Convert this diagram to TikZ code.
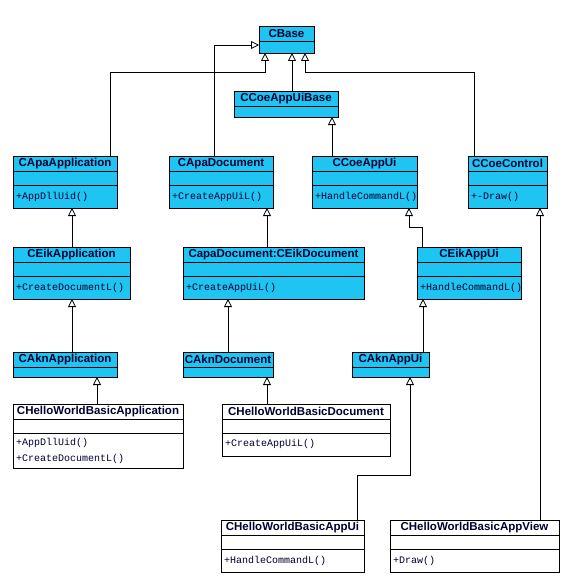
\documentclass[tikz,border=0pt]{standalone}
\usepackage{fontspec}
\usetikzlibrary{arrows.meta}
\newfontfamily\ttlfont{Liberation Sans}
\newfontfamily\opfont{Liberation Mono}
\definecolor{clsblue}{RGB}{30,196,242}
\definecolor{navy}{RGB}{0,0,48}
\tikzset{
  blue box/.style={draw=black, fill=clsblue, line width=0.8pt, inner sep=0pt, outer sep=0pt, rectangle},
  white box/.style={draw=black, fill=white, line width=0.8pt, inner sep=0pt, outer sep=0pt, rectangle},
  ttl/.style={font=\ttlfont\bfseries\fontsize{11.5}{13}\selectfont, text=navy, inner sep=0pt},
  optext/.style={font=\opfont\fontsize{10}{12}\selectfont, text=navy, inner sep=0pt, anchor=west},
  sepline/.style={draw=black, line width=0.8pt},
  inh/.style={draw=black, line width=0.8pt, -{Triangle[open, length=8pt, width=8pt, line width=0.8pt]}}
}
\newcommand\clsbox[7]{%
  \node[#1, anchor=north west, minimum width={(#5-#3)*1pt}, minimum height={(#6-#4)*1pt}] (#2) at (#3,#4) {};
  \node[ttl] (#2-title) at ([yshift=-7.5pt]#2.north) {#7};
  \draw[sepline] ([yshift=-15pt]#2.north west) -- ([yshift=-15pt]#2.north east);
}
\newcommand\secondsep[1]{%
  \draw[sepline] ([yshift=-29pt]#1.north west) -- ([yshift=-29pt]#1.north east);
}
\newcommand\opline[4]{%
  \node[optext] (#1-op#2) at ([xshift=3pt,yshift=-#3pt]#1.north west) {#4};
}
\begin{document}
\begin{tikzpicture}[x=1pt, y=-1pt]
\fill[white] (0,0) rectangle (580,583);
\useasboundingbox (0,0) rectangle (580,583);

% row 0
\clsbox{blue box}{cbase}{259}{26}{314}{53}{CBase}
\clsbox{blue box}{coeuibase}{234}{91}{338}{117}{CCoeAppUiBase}

% row 1
\clsbox{blue box}{apaapp}{13}{156}{117}{208}{CApaApplication}
\secondsep{apaapp}\opline{apaapp}{1}{41}{+AppDllUid()}
\clsbox{blue box}{apadoc}{169}{156}{273}{208}{CApaDocument}
\secondsep{apadoc}\opline{apadoc}{1}{41}{+CreateAppUiL()}
\clsbox{blue box}{coeappui}{312}{156}{417}{208}{CCoeAppUi}
\secondsep{coeappui}\opline{coeappui}{1}{41}{+HandleCommandL()}
\clsbox{blue box}{coectrl}{468}{156}{547}{208}{CCoeControl}
\secondsep{coectrl}\opline{coectrl}{1}{41}{+-Draw()}

% row 2
\clsbox{blue box}{eikapp}{13}{247}{130}{299}{CEikApplication}
\secondsep{eikapp}\opline{eikapp}{1}{41}{+CreateDocumentL()}
\clsbox{blue box}{eikdoc}{183}{247}{364}{299}{CapaDocument:CEikDocument}
\secondsep{eikdoc}\opline{eikdoc}{1}{41}{+CreateAppUiL()}
\clsbox{blue box}{eikappui}{417}{247}{521}{299}{CEikAppUi}
\secondsep{eikappui}\opline{eikappui}{1}{41}{+HandleCommandL()}

% row 3
\clsbox{blue box}{aknapp}{13}{352}{117}{377}{CAknApplication}
\clsbox{blue box}{akndoc}{183}{352}{273}{377}{CAknDocument}
\clsbox{blue box}{aknappui}{352}{352}{429}{377}{CAknAppUi}

% row 4
\clsbox{white box}{hwapp}{13}{404}{183}{468}{CHelloWorldBasicApplication}
\secondsep{hwapp}\opline{hwapp}{1}{39}{+AppDllUid()}\opline{hwapp}{2}{55}{+CreateDocumentL()}
\clsbox{white box}{hwdoc}{222}{404}{390}{456}{CHelloWorldBasicDocument}
\secondsep{hwdoc}\opline{hwdoc}{1}{40}{+CreateAppUiL()}

% row 5
\clsbox{white box}{hwappui}{221}{520}{364}{572}{CHelloWorldBasicAppUi}
\secondsep{hwappui}\opline{hwappui}{1}{41}{+HandleCommandL()}
\clsbox{white box}{hwview}{390}{520}{559}{572}{CHelloWorldBasicAppView}
\secondsep{hwview}\opline{hwview}{1}{41}{+Draw()}

% connectors
\draw[inh] (apaapp.north -| 110,0) -- (110,72) -- (265,72) -- (cbase.south -| 265,0);
\draw[inh] (apadoc.north -| 214,0) -- (214,45) -- (cbase.west |- 0,45);
\draw[inh] (coeuibase.north -| 292,0) -- (cbase.south -| 292,0);
\draw[inh] (coectrl.north -| 474,0) -- (474,72) -- (305,72) -- (cbase.south -| 305,0);
\draw[inh] (coeappui.north -| 332,0) -- (coeuibase.south -| 332,0);

\draw[inh] (eikapp.north -| 72,0) -- (apaapp.south -| 72,0);
\draw[inh] (eikdoc.north -| 267,0) -- (apadoc.south -| 267,0);
\draw[inh] (eikappui.north -| 422,0) -- (422,227) -- (409,227) -- (coeappui.south -| 409,0);

\draw[inh] (aknapp.north -| 72,0) -- (eikapp.south -| 72,0);
\draw[inh] (akndoc.north -| 228,0) -- (eikdoc.south -| 228,0);
\draw[inh] (aknappui.north -| 423,0) -- (eikappui.south -| 423,0);

\draw[inh] (hwapp.north -| 97,0) -- (aknapp.south -| 97,0);
\draw[inh] (hwdoc.north -| 267,0) -- (akndoc.south -| 267,0);
\draw[inh] (hwappui.north -| 357,0) -- (357,475) -- (410,475) -- (aknappui.south -| 410,0);
\draw[inh] (hwview.north -| 540,0) -- (coectrl.south -| 540,0);
\end{tikzpicture}
\end{document}
